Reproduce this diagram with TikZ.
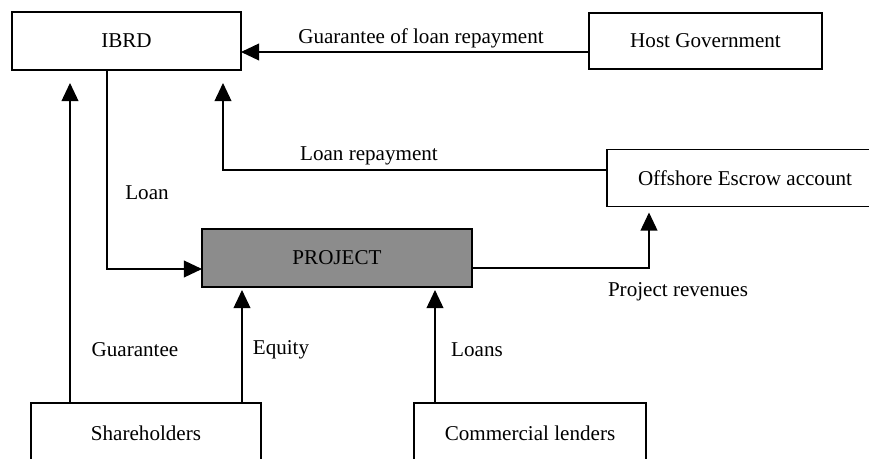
\documentclass[tikz,border=0pt]{standalone}
\usepackage{fontspec}
\setmainfont{Liberation Serif}
\usetikzlibrary{arrows.meta,calc}

\begin{document}
\begin{tikzpicture}[x=0.025cm,y=-0.025cm,
    box/.style={draw,line width=0.9pt,inner sep=0pt,outer sep=0pt,minimum height=1.45cm,font=\fontsize{15}{18}\selectfont},
    project box/.style={box,fill=black!45},
    arr/.style={-{Triangle[length=0.45cm,width=0.42cm]},line width=0.8pt},
    lbl/.style={font=\fontsize{15}{18}\selectfont}]
    \clip (0,0) rectangle (869,459);
    \fill[white] (0,0) rectangle (869,459);

    \node[box,minimum width=5.725cm] (ibrd) at (126.5,41) {IBRD};
    \node[box,minimum width=5.825cm,minimum height=1.4cm] (hostgov) at (705.5,41) {Host Government};
    \node[box,minimum width=6.9cm,minimum height=1.425cm] (escrow) at (745,178) {Offshore Escrow account};
    \node[project box,minimum width=6.75cm] (project) at (337,258) {PROJECT};
    \node[box,minimum width=5.75cm,minimum height=1.5cm] (shareholders) at (146,433) {Shareholders};
    \node[box,minimum width=5.8cm,minimum height=1.5cm] (lenders) at (530,433) {Commercial lenders};

    % flows into IBRD
    \draw[arr] ($(hostgov.west)+(0,11)$) -- ($(ibrd.east)+(0,11)$);
    \draw[arr,shorten >=0.325cm] ($(escrow.west)+(0,-8)$) -| ($(ibrd.south)+(96.5,0)$);
    \draw[arr,shorten >=0.325cm] ($(shareholders.north)+(-76,0)$) -- ($(ibrd.south)+(-56.5,0)$);

    % flows into the project
    \draw[arr] ($(ibrd.south)+(-19.5,0)$) |- ($(project.west)+(0,11)$);
    \draw[arr,shorten >=0.075cm] ($(shareholders.north)+(96,0)$) -- ($(project.south)+(-95,0)$);
    \draw[arr,shorten >=0.075cm] ($(lenders.north)+(-95,0)$) -- ($(project.south)+(98,0)$);

    % revenues to escrow
    \draw[arr,shorten >=0.15cm] ($(project.east)+(0,10)$) -| ($(escrow.south)+(-96,0)$);

    \node[lbl] (guarlbl) at (421,38) {Guarantee of loan repayment};
    \node[lbl] (repaylbl) at (369,156) {Loan repayment};
    \node[lbl] (loanlbl) at (147,193) {Loan};
    \node[lbl] (revlbl) at (678,292) {Project revenues};
    \node[lbl] (sharelbl) at (135,350) {Guarantee};
    \node[lbl] (equitylbl) at (281,350) {Equity};
    \node[lbl] (loanslbl) at (477,350) {Loans};
\end{tikzpicture}
\end{document}
